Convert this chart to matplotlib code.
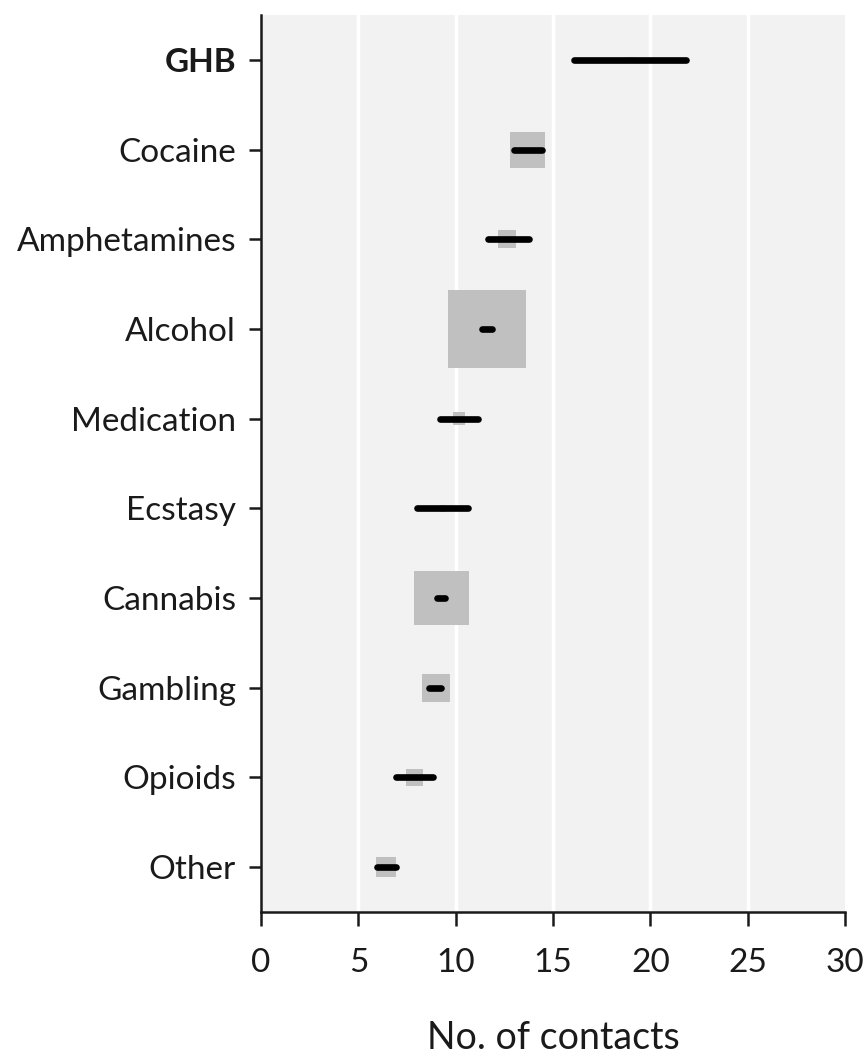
import matplotlib
matplotlib.use("Agg")
import matplotlib.pyplot as plt
from matplotlib.patches import Rectangle

plt.rcParams['font.family'] = ['Lato', 'DejaVu Sans']

# rows from bottom (Other) to top (GHB)
categories = ['Other', 'Opioids', 'Gambling', 'Cannabis', 'Ecstasy',
              'Medication', 'Alcohol', 'Amphetamines', 'Cocaine', 'GHB']

# grey box: x range and height (in category units)
box_lo = [5.9, 7.45, 8.25, 7.85, 9.2, 9.85, 9.6, 12.2, 12.8, 18.8]
box_hi = [6.95, 8.3, 9.7, 10.7, 9.5, 10.5, 13.6, 13.1, 14.6, 19.2]
box_h = [0.22, 0.2, 0.31, 0.61, 0.08, 0.14, 0.87, 0.2, 0.4, 0.06]

# black line: x range
line_lo = [5.95, 6.95, 8.65, 9.05, 8.0, 9.2, 11.35, 11.65, 13.0, 16.1]
line_hi = [6.95, 8.85, 9.25, 9.45, 10.65, 11.15, 11.85, 13.75, 14.45, 21.85]

xticks = [0, 5, 10, 15, 20, 25, 30]

fig = plt.figure(figsize=(8.68, 10.6), dpi=100)
ax = fig.add_axes([0.3007, 0.1396, 0.6728, 0.8462])
ax.set_facecolor('#f2f2f2')

for x in xticks[1:-1]:
    ax.axvline(x, color='white', lw=2.5, zorder=1)

for i in range(len(categories)):
    ax.add_patch(Rectangle((box_lo[i], i - box_h[i] / 2), box_hi[i] - box_lo[i], box_h[i],
                           facecolor='#c0c0c0', edgecolor='none', zorder=2))
    ax.plot([line_lo[i], line_hi[i]], [i, i], color='black', lw=4.8,
            solid_capstyle='round', zorder=3)

ax.set_xlim(0, 30)
ax.set_ylim(-0.5, len(categories) - 0.5)
ax.set_xticks(xticks)
ax.set_yticks(range(len(categories)))
ax.set_yticklabels(categories)
for lbl in ax.get_yticklabels():
    if lbl.get_text() == 'GHB':
        lbl.set_fontweight('bold')

for side in ['top', 'right']:
    ax.spines[side].set_visible(False)
for side in ['left', 'bottom']:
    ax.spines[side].set_linewidth(1.8)
    ax.spines[side].set_color('#1a1a1a')

ax.tick_params(axis='y', length=9, width=1.8, pad=9, labelsize=24, colors='#1a1a1a')
ax.tick_params(axis='x', length=10, width=1.8, pad=16, labelsize=24, colors='#1a1a1a')
ax.set_xlabel('No. of contacts', fontsize=27, labelpad=30, color='#1a1a1a')

fig.savefig('out.png', dpi=100)
